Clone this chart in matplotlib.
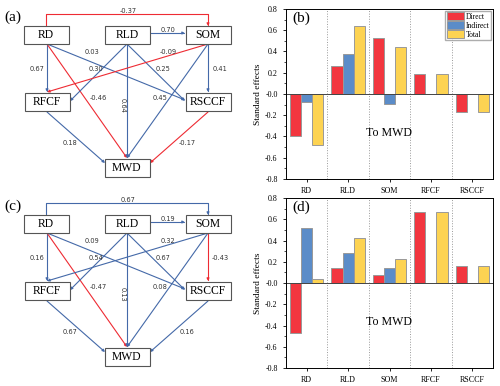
import numpy as np
from matplotlib import pyplot as plt
from matplotlib.patches import Rectangle, FancyArrowPatch
from matplotlib.path import Path

plt.rcParams['font.family'] = ['Liberation Serif', 'DejaVu Serif']

# path coefficients (structural equation model)
paths = [('RD', 'SOM'), ('RLD', 'SOM'), ('RD', 'RFCF'), ('RD', 'MWD'), ('RD', 'RSCCF'),
         ('RLD', 'RFCF'), ('RLD', 'MWD'), ('RLD', 'RSCCF'), ('SOM', 'RFCF'), ('SOM', 'RSCCF'),
         ('SOM', 'MWD'), ('RFCF', 'MWD'), ('RSCCF', 'MWD')]
coef_a = [-0.37, 0.70, 0.67, -0.46, 0.03, 0.30, 0.64, 0.25, -0.09, 0.41, 0.45, 0.18, -0.17]
coef_c = [0.67, 0.19, 0.16, -0.47, 0.09, 0.54, 0.13, 0.67, 0.32, -0.43, 0.08, 0.67, 0.16]

# standardized effects on MWD
factors = ['RD', 'RLD', 'SOM', 'RFCF', 'RSCCF']
direct_b = [-0.40, 0.26, 0.53, 0.19, -0.17]
indirect_b = [-0.08, 0.38, -0.09, np.nan, np.nan]
total_b = [-0.48, 0.64, 0.44, 0.19, -0.17]
direct_d = [-0.47, 0.14, 0.08, 0.67, 0.16]
indirect_d = [0.52, 0.28, 0.14, np.nan, np.nan]
total_d = [0.04, 0.42, 0.23, 0.67, 0.16]

RED = '#EE2B33'
BLUE = '#4469A8'

# layout of the path diagram (pixel coords, panel a)
boxes = {'RD': (46, 35), 'RLD': (127, 35), 'SOM': (208, 35),
         'RFCF': (47, 102), 'RSCCF': (208, 102), 'MWD': (127, 168)}
geom = {
    ('RD', 'SOM'): ([(46, 26), (46, 14), (208, 14), (208, 26)], (128, 11), 0),
    ('RLD', 'SOM'): ([(150, 33), (185, 33)], (168, 30), 0),
    ('RD', 'RFCF'): ([(47, 44), (47, 92)], (37, 69), 0),
    ('RD', 'MWD'): ([(47, 44), (127, 158)], (98, 98), 0),
    ('RD', 'RSCCF'): ([(47, 44), (185, 100)], (92, 52), 0),
    ('RLD', 'RFCF'): ([(127, 44), (70, 101)], (96, 69), 0),
    ('RLD', 'MWD'): ([(127, 44), (127, 158)], (123, 105), 270),
    ('RLD', 'RSCCF'): ([(127, 44), (185, 101)], (163, 69), 0),
    ('SOM', 'RFCF'): ([(208, 44), (47, 92)], (168, 52), 0),
    ('SOM', 'RSCCF'): ([(208, 44), (208, 92)], (220, 69), 0),
    ('SOM', 'MWD'): ([(208, 44), (127, 158)], (160, 98), 0),
    ('RFCF', 'MWD'): ([(47, 112), (105, 163)], (70, 143), 0),
    ('RSCCF', 'MWD'): ([(208, 112), (150, 163)], (187, 143), 0),
}


def draw_diagram(ax, coefs, dy, tag):
    for (p, c) in zip(paths, coefs):
        pts, lab, rot = geom[p]
        col = RED if c < 0 else BLUE
        pts = [(x, y + dy) for x, y in pts]
        codes = [Path.MOVETO] + [Path.LINETO] * (len(pts) - 1)
        arr = FancyArrowPatch(path=Path(pts, codes), arrowstyle='-|>', mutation_scale=3.5,
                              color=col, lw=0.8, shrinkA=0, shrinkB=0)
        ax.add_patch(arr)
        ax.text(lab[0], lab[1] + dy, '%.2f' % c, fontsize=4.8, ha='center', va='center',
                rotation=rot, color='#333333', family=['DejaVu Sans'])
    for name, (x, y) in boxes.items():
        ax.add_patch(Rectangle((x - 22.5, y + dy - 9), 45, 18, fc='white', ec='#555555', lw=0.8, zorder=3))
        ax.text(x, y + dy, name, fontsize=8.4, ha='center', va='center', zorder=4)
    ax.text(4, 17 + dy, tag, fontsize=11, ha='left', va='center')


fig = plt.figure(figsize=(5, 3.86), dpi=100)
ax0 = fig.add_axes([0, 0, 0.5, 1])
ax0.set_xlim(0, 250)
ax0.set_ylim(386, 0)
ax0.axis('off')
draw_diagram(ax0, coef_a, 0, '(a)')
draw_diagram(ax0, coef_c, 189, '(c)')


def draw_bars(ax, d, i, t, tag, legend):
    x = np.arange(len(factors))
    w = 0.27
    ax.bar(x - w, d, w, color='#F2363F', edgecolor='#999999', lw=0.7, label='Direct')
    ax.bar(x, i, w, color='#5B8CC8', edgecolor='#999999', lw=0.7, label='Indirect')
    ax.bar(x + w, t, w, color='#FDD352', edgecolor='#999999', lw=0.7, label='Total')
    for s in np.arange(0.5, 4.5, 1):
        ax.axvline(s, color='#999999', ls=':', lw=0.7)
    ax.axhline(0, color='#444444', lw=0.7)
    ax.set_xlim(-0.5, 4.5)
    ax.set_ylim(-0.8, 0.8)
    ax.set_yticks(np.arange(-0.8, 0.81, 0.2))
    ax.set_yticklabels(['%.1f' % v for v in np.arange(-0.8, 0.81, 0.2)])
    ax.set_yticks(np.arange(-0.8, 0.81, 0.1), minor=True)
    ax.set_xticks(x)
    ax.set_xticklabels(factors)
    ax.tick_params(labelsize=5.8, length=2.5, width=0.6)
    ax.tick_params(which='minor', length=1.5, width=0.5)
    ax.set_ylabel('Standard effects', fontsize=6.8, labelpad=2)
    for sp in ax.spines.values():
        sp.set_linewidth(0.7)
    ax.text(2, -0.37, 'To MWD', fontsize=8.6, ha='center', va='center')
    ax.text(0.03, 0.945, tag, transform=ax.transAxes, fontsize=11, ha='left', va='center')
    if legend:
        ax.legend(loc='upper right', fontsize=5.5, frameon=True, fancybox=False,
                  edgecolor='#999999', handlelength=2.2, handleheight=1.2,
                  labelspacing=0.05, handletextpad=0.3, borderpad=0.2, borderaxespad=0.25)


ax1 = fig.add_axes([0.572, 0.5363, 0.414, 0.4404])
draw_bars(ax1, direct_b, indirect_b, total_b, '(b)', True)
ax2 = fig.add_axes([0.572, 0.0466, 0.414, 0.4404])
draw_bars(ax2, direct_d, indirect_d, total_d, '(d)', False)

plt.savefig('out.png', dpi=100)
